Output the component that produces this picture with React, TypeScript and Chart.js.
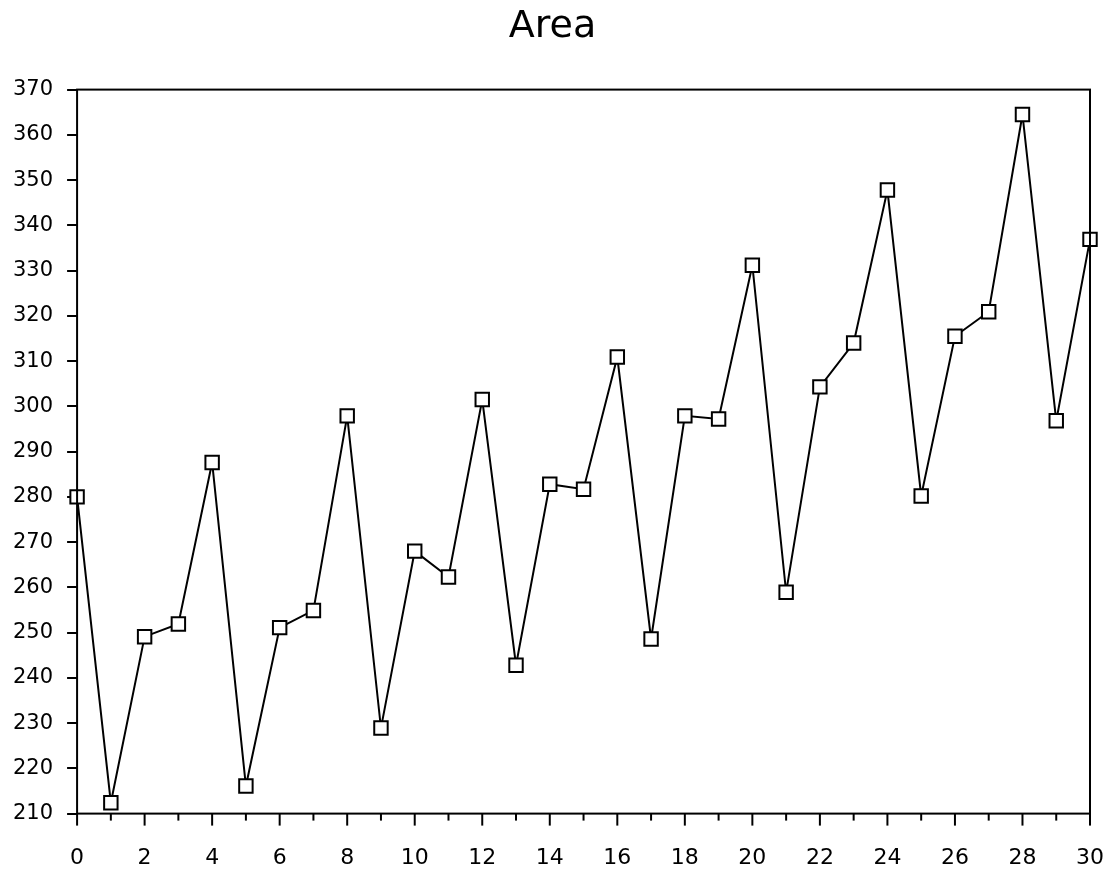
import React, { useEffect, useRef } from "react";
import { Chart, registerables } from "chart.js";

Chart.register(...registerables);

const xValues = [0,1,2,3,4,5,6,7,8,9,10,11,12,13,14,15,16,17,18,19,20,21,22,23,24,25,26,27,28,29,30];
const areaValues = [280,212.4,249.1,251.9,287.6,216.1,251.1,254.9,297.9,228.9,268,262.3,301.5,242.8,282.8,281.7,310.9,248.6,297.9,297.2,331.2,258.9,304.3,314,347.8,280.2,315.5,320.9,364.5,296.8,336.9];
const titleText = "Area";
const yMin = 210;
const yMax = 370;
const xMin = 0;
const xMax = 30;

const FONT = "'DejaVu Sans', sans-serif";

const framePlugin = {
  id: "frame",
  afterDatasetsDraw(chart: any) {
    const { ctx, chartArea, scales } = chart;
    ctx.save();
    ctx.strokeStyle = "#000";
    ctx.lineWidth = 2;
    ctx.strokeRect(chartArea.left, chartArea.top, chartArea.right - chartArea.left, chartArea.bottom - chartArea.top);
    const xs = scales.x;
    for (let v = xMin; v <= xMax; v += 1) {
      const px = xs.getPixelForValue(v);
      ctx.beginPath();
      ctx.moveTo(px, chartArea.bottom);
      ctx.lineTo(px, chartArea.bottom + (v % 2 === 0 ? 12 : 7));
      ctx.stroke();
    }
    ctx.restore();
  },
};

export default function App() {
  const ref = useRef<HTMLCanvasElement>(null);
  useEffect(() => {
    if (!ref.current) return;
    const chart = new Chart(ref.current, {
      type: "line",
      data: {
        datasets: [
          {
            label: titleText,
            data: xValues.map((x, i) => ({ x, y: areaValues[i] })),
            borderColor: "#000",
            borderWidth: 2,
            pointStyle: "rect",
            pointRadius: 9.5,
            pointBackgroundColor: "#fff",
            pointBorderColor: "#000",
            pointBorderWidth: 2,
            tension: 0,
            fill: false,
            clip: false,
          },
        ],
      },
      options: {
        animation: false,
        responsive: false,
        devicePixelRatio: 1,
        layout: { padding: { left: -1, right: 0, top: 0, bottom: 3 } },
        plugins: {
          legend: { display: false },
          tooltip: { enabled: false },
          title: {
            display: true,
            text: titleText,
            color: "#000",
            font: { family: FONT, size: 38, weight: "normal" },
            padding: { top: 4, bottom: 40 },
          },
        },
        scales: {
          x: {
            type: "linear",
            min: xMin,
            max: xMax,
            border: { display: false },
            grid: {
              drawOnChartArea: false,
              drawTicks: true,
              tickLength: 29,
              lineWidth: 0,
              color: "rgba(0,0,0,0)",
            },
            ticks: {
              stepSize: 1,
              autoSkip: false,
              maxRotation: 0,
              padding: 2,
              color: "#000",
              font: { family: FONT, size: 22 },
              callback: (v: any) => (Number(v) % 2 === 0 ? String(v) : ""),
            },
          },
          y: {
            type: "linear",
            min: yMin,
            max: yMax,
            border: { display: false },
            grid: {
              drawOnChartArea: false,
              drawTicks: true,
              tickLength: 10,
              lineWidth: 2,
              color: "#000",
            },
            ticks: {
              stepSize: 10,
              padding: 14,
              color: "#000",
              font: { family: FONT, size: 21 },
            },
          },
        },
      },
      plugins: [framePlugin],
    } as any);
    return () => chart.destroy();
  }, []);
  return (
    <div style={{ position: "fixed", left: 0, top: 0, width: 1106, height: 876, background: "#fff" }}>
      <canvas ref={ref} width={1106} height={876} style={{ width: 1106, height: 876 }} />
    </div>
  );
}
